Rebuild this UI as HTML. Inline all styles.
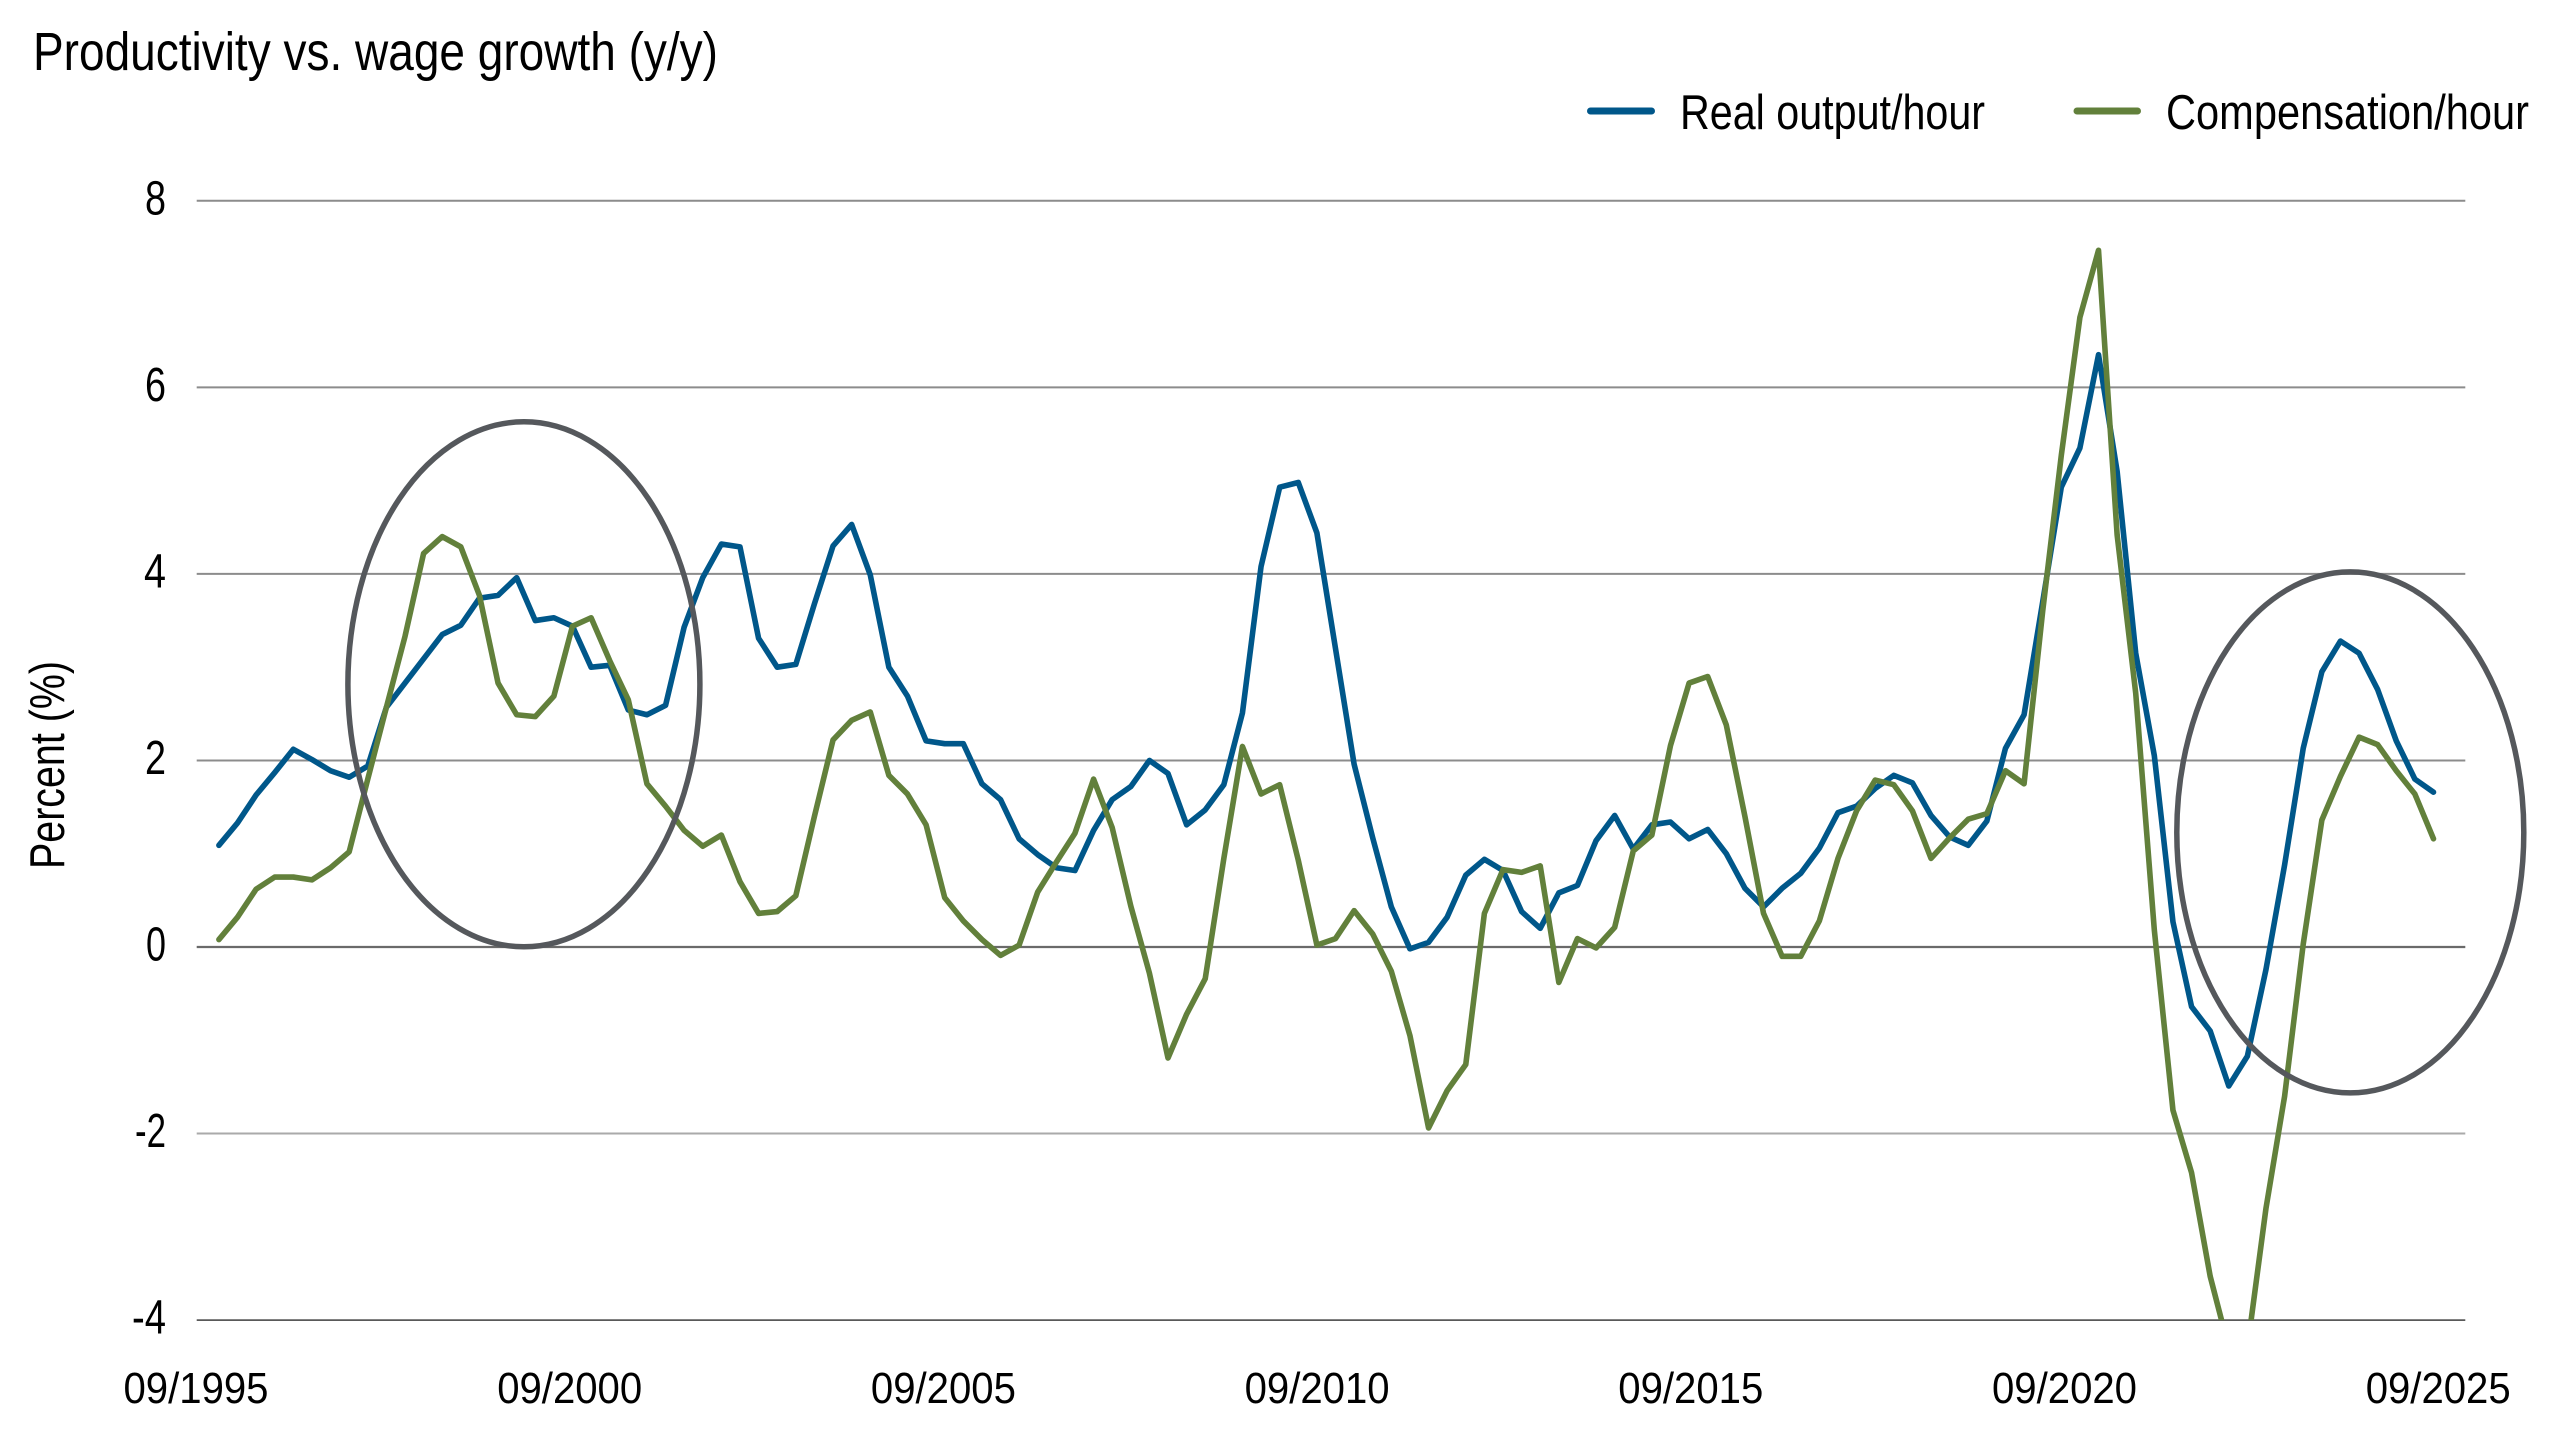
<!DOCTYPE html>
<html>
<head>
<meta charset="utf-8">
<style>
  html,body{margin:0;padding:0;background:#ffffff;}
  svg{display:block;}
  text{font-family:"Liberation Sans Narrow","Liberation Sans",sans-serif;fill:#000;}
</style>
</head>
<body>
<svg width="2560" height="1440" viewBox="0 0 2560 1440" xmlns="http://www.w3.org/2000/svg">
  <defs>
    <clipPath id="plot">
      <rect x="196" y="150" width="2270" height="1170.1"/>
    </clipPath>
  </defs>
  <rect x="0" y="0" width="2560" height="1440" fill="#ffffff"/>

  <!-- Title -->
  <text x="33" y="70" font-size="54" textLength="685" lengthAdjust="spacingAndGlyphs">Productivity vs. wage growth (y/y)</text>

  <!-- Legend -->
  <line x1="1590.5" y1="111" x2="1651.5" y2="111" stroke="#00578a" stroke-width="7" stroke-linecap="round"/>
  <text x="1680" y="129" font-size="49" textLength="305" lengthAdjust="spacingAndGlyphs">Real output/hour</text>
  <line x1="2077" y1="111" x2="2137.5" y2="111" stroke="#62803b" stroke-width="7" stroke-linecap="round"/>
  <text x="2166" y="129" font-size="49" textLength="363" lengthAdjust="spacingAndGlyphs">Compensation/hour</text>

  <!-- Gridlines -->
  <line x1="196.7" y1="200.8" x2="2465.3" y2="200.8" stroke="#8c8c8c" stroke-width="2"/>
  <line x1="196.7" y1="387.4" x2="2465.3" y2="387.4" stroke="#8c8c8c" stroke-width="2"/>
  <line x1="196.7" y1="573.9" x2="2465.3" y2="573.9" stroke="#8c8c8c" stroke-width="2"/>
  <line x1="196.7" y1="760.5" x2="2465.3" y2="760.5" stroke="#8c8c8c" stroke-width="2"/>
  <line x1="196.7" y1="947.0" x2="2465.3" y2="947.0" stroke="#6a6a6a" stroke-width="2.2"/>
  <line x1="196.7" y1="1133.5" x2="2465.3" y2="1133.5" stroke="#aaaaaa" stroke-width="2"/>
  <line x1="196.7" y1="1320.1" x2="2465.3" y2="1320.1" stroke="#595959" stroke-width="1.8"/>

  <!-- Y tick labels -->
  <text x="166" y="214.5" font-size="48" text-anchor="end" textLength="21" lengthAdjust="spacingAndGlyphs">8</text>
  <text x="166" y="401" font-size="48" text-anchor="end" textLength="21" lengthAdjust="spacingAndGlyphs">6</text>
  <text x="166" y="587.5" font-size="48" text-anchor="end" textLength="22" lengthAdjust="spacingAndGlyphs">4</text>
  <text x="166" y="774" font-size="48" text-anchor="end" textLength="21" lengthAdjust="spacingAndGlyphs">2</text>
  <text x="166" y="960.5" font-size="48" text-anchor="end" textLength="20" lengthAdjust="spacingAndGlyphs">0</text>
  <text x="166" y="1147" font-size="48" text-anchor="end" textLength="31" lengthAdjust="spacingAndGlyphs">-2</text>
  <text x="166" y="1333.5" font-size="48" text-anchor="end" textLength="34" lengthAdjust="spacingAndGlyphs">-4</text>

  <!-- Y axis title -->
  <text transform="translate(64,765) rotate(-90)" x="0" y="0" font-size="49" text-anchor="middle" textLength="208" lengthAdjust="spacingAndGlyphs">Percent (%)</text>

  <!-- X labels -->
  <text x="196" y="1403" font-size="44" text-anchor="middle" textLength="145" lengthAdjust="spacingAndGlyphs">09/1995</text>
  <text x="569.7" y="1403" font-size="44" text-anchor="middle" textLength="145" lengthAdjust="spacingAndGlyphs">09/2000</text>
  <text x="943.4" y="1403" font-size="44" text-anchor="middle" textLength="145" lengthAdjust="spacingAndGlyphs">09/2005</text>
  <text x="1317.1" y="1403" font-size="44" text-anchor="middle" textLength="145" lengthAdjust="spacingAndGlyphs">09/2010</text>
  <text x="1690.8" y="1403" font-size="44" text-anchor="middle" textLength="145" lengthAdjust="spacingAndGlyphs">09/2015</text>
  <text x="2064.5" y="1403" font-size="44" text-anchor="middle" textLength="145" lengthAdjust="spacingAndGlyphs">09/2020</text>
  <text x="2438.2" y="1403" font-size="44" text-anchor="middle" textLength="145" lengthAdjust="spacingAndGlyphs">09/2025</text>

  <!-- Series -->
  <g clip-path="url(#plot)">
    <g transform="translate(218.9,947) scale(18.61,-93.27)">
      <polyline fill="none" stroke="#00578a" stroke-width="5.6" vector-effect="non-scaling-stroke" stroke-linejoin="round" stroke-linecap="round"
        points="0,1.09 1,1.33 2,1.63 3,1.87 4,2.12 5,2.01 6,1.89 7,1.82 8,1.94 9,2.57 10,2.83 11,3.09 12,3.35 13,3.45 14,3.74 15,3.77 16,3.96 17,3.50 18,3.53 19,3.44 20,3.00 21,3.02 22,2.54 23,2.49 24,2.59 25,3.43 26,3.96 27,4.32 28,4.29 29,3.31 30,3.00 31,3.03 32,3.68 33,4.30 34,4.53 35,3.99 36,3.00 37,2.69 38,2.21 39,2.18 40,2.18 41,1.75 42,1.58 43,1.16 44,0.99 45,0.85 46,0.82 47,1.25 48,1.58 49,1.72 50,2.00 51,1.86 52,1.31 53,1.47 54,1.74 55,2.51 56,4.08 57,4.93 58,4.98 59,4.44 60,3.20 61,1.96 62,1.17 63,0.43 64,-0.02 65,0.05 66,0.32 67,0.77 68,0.94 69,0.82 70,0.38 71,0.20 72,0.58 73,0.66 74,1.14 75,1.41 76,1.05 77,1.31 78,1.34 79,1.16 80,1.26 81,1.00 82,0.63 83,0.43 84,0.63 85,0.79 86,1.06 87,1.44 88,1.51 89,1.70 90,1.84 91,1.76 92,1.41 93,1.18 94,1.09 95,1.35 96,2.13 97,2.49 98,3.70 99,4.93 100,5.35 101,6.35 102,5.10 103,3.15 104,2.05 105,0.27 106,-0.64 107,-0.90 108,-1.49 109,-1.17 110,-0.24 111,0.88 112,2.13 113,2.95 114,3.28 115,3.15 116,2.76 117,2.21 118,1.80 119,1.66"/>
      <polyline fill="none" stroke="#62803b" stroke-width="5.6" vector-effect="non-scaling-stroke" stroke-linejoin="round" stroke-linecap="round"
        points="0,0.08 1,0.32 2,0.62 3,0.75 4,0.75 5,0.72 6,0.85 7,1.02 8,1.80 9,2.57 10,3.33 11,4.22 12,4.40 13,4.29 14,3.77 15,2.83 16,2.49 17,2.47 18,2.69 19,3.44 20,3.53 21,3.07 22,2.65 23,1.75 24,1.51 25,1.25 26,1.08 27,1.20 28,0.70 29,0.36 30,0.38 31,0.55 32,1.40 33,2.22 34,2.43 35,2.52 36,1.84 37,1.64 38,1.31 39,0.53 40,0.28 41,0.08 42,-0.09 43,0.02 44,0.59 45,0.91 46,1.22 47,1.80 48,1.28 49,0.44 50,-0.28 51,-1.19 52,-0.72 53,-0.34 54,0.95 55,2.15 56,1.64 57,1.74 58,0.93 59,0.02 60,0.09 61,0.39 62,0.14 63,-0.26 64,-0.95 65,-1.94 66,-1.54 67,-1.26 68,0.36 69,0.83 70,0.80 71,0.87 72,-0.38 73,0.09 74,-0.01 75,0.21 76,1.03 77,1.20 78,2.16 79,2.83 80,2.90 81,2.38 82,1.40 83,0.36 84,-0.10 85,-0.10 86,0.28 87,0.95 88,1.46 89,1.79 90,1.74 91,1.46 92,0.95 93,1.17 94,1.37 95,1.43 96,1.89 97,1.75 98,3.60 99,5.27 100,6.75 101,7.47 102,4.42 103,2.72 104,0.18 105,-1.75 106,-2.42 107,-3.53 108,-4.30 109,-4.30 110,-2.80 111,-1.60 112,0.03 113,1.36 114,1.83 115,2.25 116,2.17 117,1.89 118,1.64 119,1.16"/>
    </g>
  </g>

  <!-- Annotation ellipses -->
  <ellipse cx="523.9" cy="684.3" rx="176" ry="262.5" fill="none" stroke="#55585c" stroke-width="5.5"/>
  <ellipse cx="2350.3" cy="832.4" rx="173.5" ry="260.5" fill="none" stroke="#55585c" stroke-width="5.5"/>
</svg>
</body>
</html>
